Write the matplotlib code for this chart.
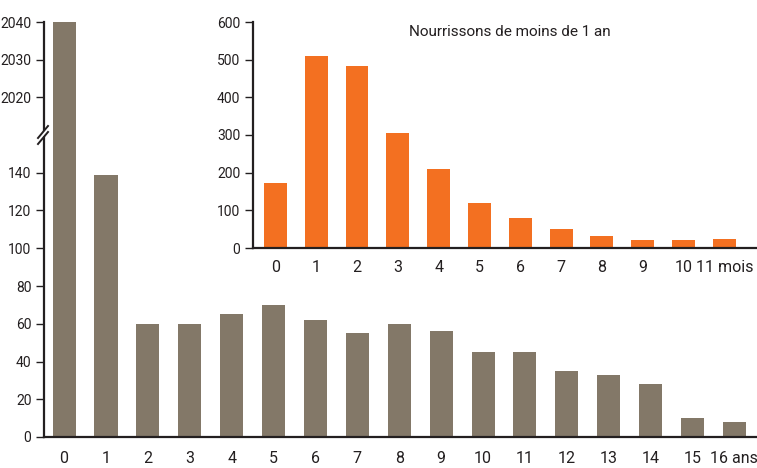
import numpy as np
import matplotlib
matplotlib.use('Agg')
import matplotlib.pyplot as plt

# données
ages = ['0', '1', '2', '3', '4', '5', '6', '7', '8', '9', '10', '11',
        '12', '13', '14', '15', '16 ans']
cas_age = [2040, 139, 60, 60, 65, 70, 62, 55, 60, 56, 45, 45, 35, 33, 28, 10, 8]

mois = ['0', '1', '2', '3', '4', '5', '6', '7', '8', '9', '10', '11 mois']
cas_mois = [172, 509, 483, 305, 210, 120, 80, 50, 32, 21, 21, 24]
titre_encart = 'Nourrissons de moins de 1 an'

GRIS = '#837868'
ORANGE = '#f37021'
TEXTE = '#231f20'

plt.rcParams['font.family'] = ['Roboto', 'DejaVu Sans']

W, H = 757, 468
fig = plt.figure(figsize=(W / 100, H / 100), dpi=100)

def rect(x0, y0, x1, y1):
    # pixels -> fraction de figure
    return [x0 / W, 1 - y1 / H, (x1 - x0) / W, (y1 - y0) / H]

ax_haut = fig.add_axes(rect(44, 22, 757, 135))
ax_bas = fig.add_axes(rect(44, 135, 757, 437))

x = np.arange(len(ages))
for ax in (ax_haut, ax_bas):
    ax.bar(x, cas_age, width=0.55, color=GRIS, zorder=2)
    ax.set_xlim(-0.48, 16.54)
    for s in ('top', 'right'):
        ax.spines[s].set_visible(False)
    ax.spines['left'].set_linewidth(1.6)
    ax.spines['left'].set_color(TEXTE)
    ax.tick_params(axis='y', length=6, width=1, colors=TEXTE, labelsize=10, pad=3)

ax_haut.set_ylim(2010, 2040)
ax_haut.set_yticks([2020, 2030, 2040])
ax_haut.spines['bottom'].set_visible(False)
ax_haut.set_xticks([])

ax_bas.set_ylim(0, 160)
ax_bas.set_yticks(range(0, 141, 20))
ax_bas.spines['bottom'].set_linewidth(1.6)
ax_bas.spines['bottom'].set_color(TEXTE)
ax_bas.set_xticks(x)
ax_bas.set_xticklabels(ages)
ax_bas.tick_params(axis='x', length=0, pad=10, labelsize=11.5, colors=TEXTE)

# marque de coupure sur l'axe
def px(xp, yp):
    return xp / W, 1 - yp / H

fig.patches.append(plt.Polygon([px(38, 143), px(38, 138), px(48, 126), px(48, 131)],
                               closed=True, transform=fig.transFigure,
                               facecolor='white', edgecolor='none', zorder=5))
for dy in (0, 6):
    fig.lines.append(plt.Line2D([38 / W, 48 / W], [1 - (138 + dy) / H, 1 - (126 + dy) / H],
                                transform=fig.transFigure, color=TEXTE, lw=1.4, zorder=6))

# encart
ax_in = fig.add_axes(rect(253, 22, 757, 248))
xm = np.arange(len(mois))
ax_in.bar(xm, cas_mois, width=0.56, color=ORANGE, zorder=2)
ax_in.set_xlim(-0.55, 11.8)
ax_in.set_ylim(0, 600)
ax_in.set_yticks(range(0, 601, 100))
ax_in.set_xticks(xm)
ax_in.set_xticklabels(mois)
for s in ('top', 'right'):
    ax_in.spines[s].set_visible(False)
for s in ('left', 'bottom'):
    ax_in.spines[s].set_linewidth(1.6)
    ax_in.spines[s].set_color(TEXTE)
ax_in.tick_params(axis='y', length=6, width=1, colors=TEXTE, labelsize=10, pad=3)
ax_in.tick_params(axis='x', length=0, pad=9, labelsize=11.5, colors=TEXTE)
ax_in.text(0.51, 0.955, titre_encart, transform=ax_in.transAxes, ha='center', va='center',
           fontsize=11, color=TEXTE)

fig.savefig('out.png', dpi=100)
